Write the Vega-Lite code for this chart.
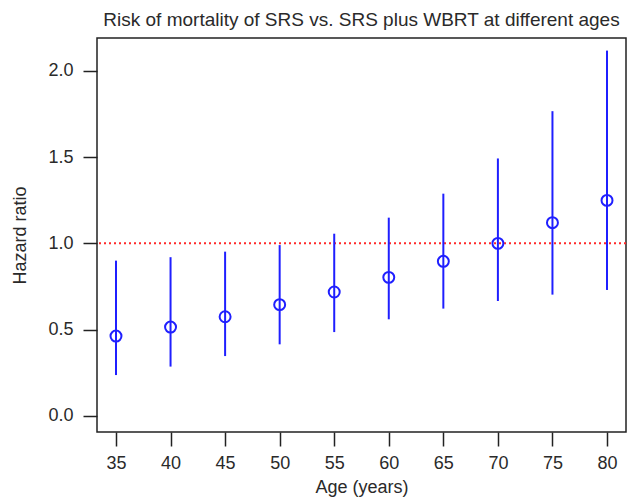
{
  "$schema": "https://vega.github.io/schema/vega-lite/v6.json",
  "width": 529,
  "height": 394,
  "autosize": "none",
  "padding": {"left": 97, "top": 38, "right": 1, "bottom": 66},
  "background": "white",
  "config": {
    "font": "Liberation Sans",
    "view": {"stroke": "#222222", "strokeWidth": 1.5},
    "axis": {
      "grid": false,
      "domain": false,
      "tickColor": "#222222",
      "tickWidth": 1.5,
      "tickSize": 14,
      "labelFont": "Liberation Sans",
      "labelFontSize": 18,
      "labelColor": "#2a2a2a",
      "titleFont": "Liberation Sans",
      "titleFontSize": 18,
      "titleFontWeight": "normal",
      "titleColor": "#2a2a2a"
    }
  },
  "title": {
    "text": "Risk of mortality of SRS vs. SRS plus WBRT at different ages",
    "font": "Liberation Sans",
    "fontSize": 19,
    "fontWeight": "normal",
    "color": "#2a2a2a",
    "anchor": "middle",
    "offset": 8
  },
  "data": {
    "values": [
      {"age": 35, "hr": 0.463, "lo": 0.237, "hi": 0.90},
      {"age": 40, "hr": 0.515, "lo": 0.286, "hi": 0.92},
      {"age": 45, "hr": 0.575, "lo": 0.347, "hi": 0.952},
      {"age": 50, "hr": 0.645, "lo": 0.415, "hi": 0.99},
      {"age": 55, "hr": 0.718, "lo": 0.486, "hi": 1.056},
      {"age": 60, "hr": 0.803, "lo": 0.56, "hi": 1.149},
      {"age": 65, "hr": 0.896, "lo": 0.622, "hi": 1.288},
      {"age": 70, "hr": 1.0, "lo": 0.666, "hi": 1.492},
      {"age": 75, "hr": 1.12, "lo": 0.703, "hi": 1.766},
      {"age": 80, "hr": 1.249, "lo": 0.73, "hi": 2.117}
    ]
  },
  "encoding": {
    "x": {
      "field": "age",
      "type": "quantitative",
      "scale": {"domain": [33.26, 81.74], "nice": false, "zero": false},
      "axis": {"values": [35, 40, 45, 50, 55, 60, 65, 70, 75, 80], "title": "Age (years)", "labelPadding": 8, "titlePadding": 6}
    }
  },
  "layer": [
    {
      "data": {"values": [{"ref": 1}]},
      "mark": {"type": "rule", "color": "#ff2a2a", "strokeWidth": 2, "strokeDash": [2, 3]},
      "encoding": {
        "x": null,
        "y": {"field": "ref", "type": "quantitative"}
      }
    },
    {
      "mark": {"type": "rule", "color": "#1f1fff", "strokeWidth": 2},
      "encoding": {
        "y": {
          "field": "lo",
          "type": "quantitative",
          "scale": {"domain": [-0.093, 2.19], "nice": false, "zero": false},
          "axis": {"values": [0, 0.5, 1, 1.5, 2], "format": ".1f", "title": "Hazard ratio", "labelPadding": 10, "titlePadding": 18}
        },
        "y2": {"field": "hi"}
      }
    },
    {
      "mark": {"type": "point", "shape": "circle", "filled": false, "color": "#1f1fff", "opacity": 1, "size": 120, "strokeWidth": 2},
      "encoding": {
        "y": {"field": "hr", "type": "quantitative"}
      }
    }
  ]
}
